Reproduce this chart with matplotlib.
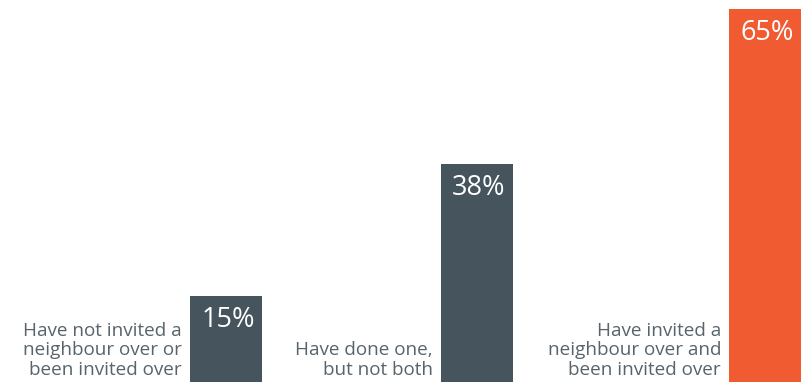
"""Gráfico de barras: convites entre vizinhos."""

import matplotlib
matplotlib.use("Agg")
import matplotlib.pyplot as plt

categorias = ["Have not invited a\nneighbour over or\nbeen invited over",
              "Have done one,\nbut not both",
              "Have invited a\nneighbour over and\nbeen invited over"]
valores = [15, 38, 65]
rotulos = ["15%", "38%", "65%"]

# posições (em pixels) e cores de cada barra
posicoes = [226, 477, 765]
cores = ["#46545e", "#46545e", "#f15b32"]
largura = 72

plt.rcParams["font.family"] = ["Open Sans", "DejaVu Sans"]

fig = plt.figure(figsize=(8.02, 3.85), dpi=100)
ax = fig.add_axes([0, 3 / 385, 1, 1 - 3 / 385])
ax.set_xlim(0, 802)
ax.set_ylim(0, 65 * 382 / 373)
ax.axis("off")

barras = ax.bar(posicoes, valores, width=largura, color=cores)

for barra, rot, cat in zip(barras, rotulos, categorias):
    x = barra.get_x()
    topo = barra.get_height()
    ax.annotate(rot, (x + largura / 2 + 2, topo), xytext=(0, -10), textcoords="offset pixels",
                ha="center", va="top", color="white", fontsize=19.5)
    ax.annotate(cat, (x, 0), xytext=(-8, 3), textcoords="offset pixels",
                ha="right", va="bottom", color="#57646c", fontsize=13.6, linespacing=1.12)

fig.savefig("out.png", dpi=100)
